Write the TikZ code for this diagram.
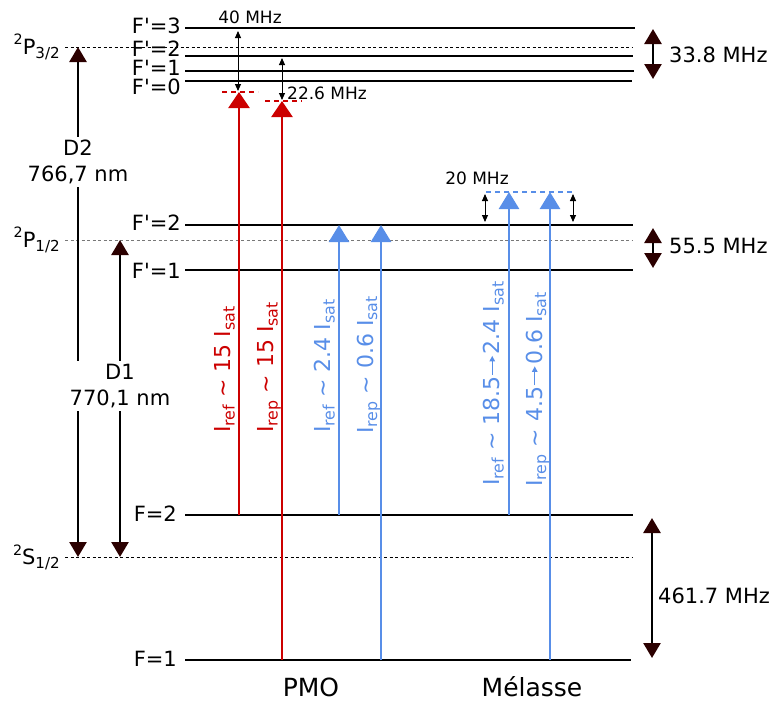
\documentclass[tikz,border=0pt]{standalone}
\usepackage{fontspec}
\setmainfont{DejaVu Sans}
\usetikzlibrary{arrows.meta}
\definecolor{dkb}{RGB}{43,0,0}
\definecolor{lred}{RGB}{204,0,0}
\definecolor{lblue}{RGB}{88,142,232}
\definecolor{dgray}{RGB}{120,120,120}
\newcommand\lsub[1]{\raisebox{-0.35ex}{\scalebox{0.72}{#1}}}
\newcommand\lsup[1]{\raisebox{0.8ex}{\scalebox{0.68}{#1}}}
\newcommand\Fp{F\textquotesingle=}
\newcommand\larr{\hspace{1pt}\tikz[baseline=-0.33em]\draw[lblue,line width=1.1pt,-{Triangle[width=5.5pt,length=5.5pt]}] (0pt,0pt) -- (19pt,0pt);\hspace{1pt}}
\begin{document}
\begin{tikzpicture}[x=1pt,y=-1pt,
  lvl/.style={line width=2.6pt},
  fine/.style={line width=0.9pt, dash pattern=on 3pt off 2.5pt},
  lab/.style={font=\fontsize{21}{26}\selectfont, inner sep=0pt},
  small/.style={font=\fontsize{17}{20}\selectfont, inner sep=0pt},
  big/.style={font=\fontsize{25}{30}\selectfont, inner sep=0pt},
  rot/.style={font=\fontsize{22}{26}\selectfont, inner sep=0pt, rotate=90, anchor=base west},
  darr/.style={line width=2.6pt, {Triangle[width=17pt,length=15pt,color=dkb]}-{Triangle[width=17pt,length=15pt,color=dkb]}},
  redarr/.style={line width=2.6pt, lred, -{Triangle[width=21pt,length=16pt]}},
  bluearr/.style={line width=2.6pt, lblue, -{Triangle[width=20pt,length=17pt]}},
  tiny/.style={line width=0.9pt, {Triangle[width=6pt,length=7pt]}-{Triangle[width=6pt,length=7pt]}},
  rdash/.style={line width=1.3pt, lred, dash pattern=on 5pt off 4pt},
  bdash/.style={line width=1.3pt, lblue, dash pattern=on 5pt off 4pt}
]
\useasboundingbox (0,0) rectangle (777,702);

% ---- level coordinates
\coordinate (a3) at (185,28);  \coordinate (b3) at (635,28);
\coordinate (a2) at (185,56);  \coordinate (b2) at (633,56);
\coordinate (a1) at (185,71);  \coordinate (b1) at (634,71);
\coordinate (a0) at (185,81);  \coordinate (b0) at (632,81);
\coordinate (pa) at (65,47);   \coordinate (pb) at (633,47);
\coordinate (c2) at (185,225); \coordinate (d2) at (633,225);
\coordinate (c1) at (185,270); \coordinate (d1) at (633,270);
\coordinate (qa) at (65,240);  \coordinate (qb) at (633,240);
\coordinate (e2) at (185,515); \coordinate (f2) at (633,515);
\coordinate (e1) at (185,660); \coordinate (f1) at (631,660);
\coordinate (sa) at (65,557);  \coordinate (sb) at (633,557);

% ---- levels
\draw[lvl] (a3) -- (b3);
\draw[lvl] (a2) -- (b2);
\draw[lvl] (a1) -- (b1);
\draw[lvl] (a0) -- (b0);
\draw[lvl] (c2) -- (d2);
\draw[lvl] (c1) -- (d1);
\draw[lvl] (e2) -- (f2);
\draw[lvl] (e1) -- (f1);
\draw[fine] (pa) -- (pb);
\draw[fine, dgray] (qa) -- (qb);
\draw[fine] (sa) -- (sb);

% ---- level labels
\node[lab, anchor=base east] (l3) at (181,33) {\Fp3};
\node[lab, anchor=base east] (l2) at (181,56.5) {\Fp2};
\node[lab, anchor=base east] (l1) at (181,75) {\Fp1};
\node[lab, anchor=base east] (l0) at (181,94) {\Fp0};
\node[lab, anchor=base east] (m2) at (181,230) {\Fp2};
\node[lab, anchor=base east] (m1) at (181,278) {\Fp1};
\node[lab, anchor=base east] (n2) at (177,521) {F=2};
\node[lab, anchor=base east] (n1) at (177,666) {F=1};

\node[lab, anchor=east] (P32) at (60,47) {\lsup{2}P\lsub{3/2}};
\node[lab, anchor=east] (P12) at (60,240) {\lsup{2}P\lsub{1/2}};
\node[lab, anchor=east] (S12) at (60,557) {\lsup{2}S\lsub{1/2}};

% ---- splitting arrows
\coordinate (h3t) at (653,29);  \coordinate (h3b) at (653,79);
\coordinate (h1t) at (653,228); \coordinate (h1b) at (653,268);
\coordinate (h0t) at (652,518); \coordinate (h0b) at (652,658);
\draw[darr] (h3t) -- (h3b);
\draw[darr] (h1t) -- (h1b);
\draw[darr] (h0t) -- (h0b);
\node[lab, anchor=west] (t338) at (669,55) {33.8 MHz};
\node[lab, anchor=west] (t555) at (669,246) {55.5 MHz};
\node[lab, anchor=west] (t4617) at (658,596) {461.7 MHz};

% ---- D lines
\coordinate (D2t) at (78,47);  \coordinate (D2b) at (78,557);
\coordinate (D1t) at (120,240); \coordinate (D1b) at (120,557);
\draw[darr] (D2b) -- (D2t);
\draw[darr] (D1b) -- (D1t);
\node[lab, fill=white, align=center, inner sep=3pt] (D2l) at (78,162) {D2\\766,7 nm};
\node[lab, fill=white, align=center, inner sep=3pt] (D1l) at (120,386) {D1\\770,1 nm};

% ---- PMO red
\coordinate (r1b) at (239,515); \coordinate (r1t) at (239,92);
\coordinate (r2b) at (282,660); \coordinate (r2t) at (282,101);
\draw[rdash] (222,92) coordinate (rd1a) -- (258,92) coordinate (rd1b);
\draw[rdash] (265,101) coordinate (rd2a) -- (302,101) coordinate (rd2b);
\draw[redarr] (r1b) -- (r1t);
\draw[redarr] (r2b) -- (r2t);
\coordinate (k1t) at (238,31); \coordinate (k1b) at (238,91);
\coordinate (k2t) at (282,58); \coordinate (k2b) at (282,100);
\draw[tiny] (k1t) -- (k1b);
\draw[tiny] (k2t) -- (k2b);
\node[small, anchor=base] (t40) at (250,23) {40 MHz};
\node[small, anchor=base west] (t226) at (287,99) {22.6 MHz};

% ---- PMO blue
\coordinate (b1b) at (339,515); \coordinate (b1t) at (339,225);
\coordinate (b2b) at (381,660); \coordinate (b2t) at (381,225);
\draw[bluearr] (b1b) -- (b1t);
\draw[bluearr] (b2b) -- (b2t);

% ---- Melasse blue
\draw[bdash] (486,192) coordinate (bd1) -- (575,192) coordinate (bd2);
\coordinate (g1b) at (509,515); \coordinate (g1t) at (509,192);
\coordinate (g2b) at (550,660); \coordinate (g2t) at (550,192);
\draw[bluearr] (g1b) -- (g1t);
\draw[bluearr] (g2b) -- (g2t);
\coordinate (k3t) at (485,194); \coordinate (k3b) at (485,222);
\coordinate (k4t) at (573,194); \coordinate (k4b) at (573,222);
\draw[tiny] (k3t) -- (k3b);
\draw[tiny] (k4t) -- (k4b);
\node[small, anchor=base] (t20) at (477,184) {20 MHz};

% ---- rotated intensity labels
\node[rot, text=lred] (i1) at (230.5,433) {I\lsub{ref} \textasciitilde{} 15 I\lsub{sat}};
\node[rot, text=lred] (i2) at (273.5,433) {I\lsub{rep} \textasciitilde{} 15 I\lsub{sat}};
\node[rot, text=lblue] (i3) at (330.5,433) {I\lsub{ref} \textasciitilde{} 2.4 I\lsub{sat}};
\node[rot, text=lblue] (i4) at (373,434) {I\lsub{rep} \textasciitilde{} 0.6 I\lsub{sat}};
\node[rot, text=lblue] (i5) at (499.5,486) {I\lsub{ref} \textasciitilde{} 18.5\larr 2.4 I\lsub{sat}};
\node[rot, text=lblue] (i6) at (542,487) {I\lsub{rep} \textasciitilde{} 4.5\larr 0.6 I\lsub{sat}};

% ---- bottom labels
\node[big, anchor=base] (pmo) at (311,696) {PMO};
\node[big, anchor=base] (mel) at (532,696) {Mélasse};
\end{tikzpicture}
\end{document}
